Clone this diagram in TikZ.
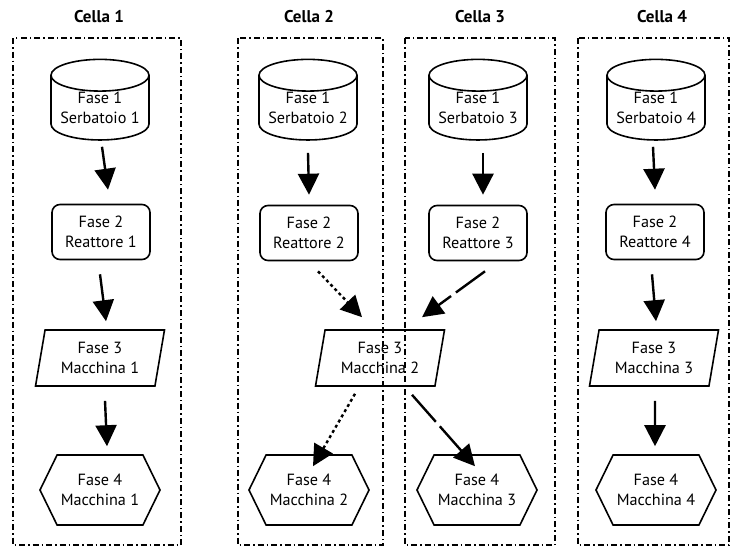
\documentclass[tikz,border=0pt]{standalone}
\usepackage{fontspec}
\setmainfont{PT Sans}
\usetikzlibrary{shapes.geometric,shapes.symbols,arrows.meta}
\begin{document}
\begin{tikzpicture}[x=1pt,y=-1pt,
  every node/.style={font=\fontsize{16.2}{20.5}\selectfont, align=center, line width=1.6pt},
  title/.style={font=\fontsize{17}{20}\selectfont\bfseries},
  cellframe/.style={line width=1.5pt, dash pattern=on 6pt off 3pt on 1.5pt off 3pt},
  tank/.style={draw, cylinder, shape border rotate=90, aspect=0.4, minimum width=98pt, minimum height=68pt, inner sep=0pt},
  reactor/.style={draw, rectangle, rounded corners=8pt, minimum width=98pt, minimum height=55pt, inner sep=0pt},
  machine/.style={draw, trapezium, trapezium left angle=78, trapezium right angle=102, trapezium stretches=true, minimum width=130pt, minimum height=56pt, inner sep=0pt},
  output/.style={draw, signal, signal to=east and west, signal pointer angle=128, minimum width=120pt, minimum height=70pt, inner sep=0pt},
  flow/.style={line width=2.4pt, -{Triangle[length=21pt,width=21pt]}},
  dotflow/.style={flow, dash pattern=on 3pt off 3pt},
  dashflow/.style={flow, dash pattern=on 36pt off 6pt}]
\useasboundingbox (0,0) rectangle (736,547);

% cell frames
\draw[cellframe] (13,38) rectangle (181,545);
\draw[cellframe] (238,38) rectangle (383,545);
\draw[cellframe] (405,38) rectangle (555,545);
\draw[cellframe] (578,38) rectangle (729,545);

% cell titles
\node[title] (t1) at (99,17) {Cella 1};
\node[title] (t2) at (309,17) {Cella 2};
\node[title] (t3) at (480,17) {Cella 3};
\node[title] (t4) at (662,17) {Cella 4};

% phase 1: tanks
\node[tank] (s1) at (100,108) {Fase 1\\Serbatoio 1};
\node[tank] (s2) at (308,108) {Fase 1\\Serbatoio 2};
\node[tank] (s3) at (478,108) {Fase 1\\Serbatoio 3};
\node[tank] (s4) at (656,108) {Fase 1\\Serbatoio 4};

% phase 2: reactors
\node[reactor] (r1) at (101,232) {Fase 2\\Reattore 1};
\node[reactor] (r2) at (309,233) {Fase 2\\Reattore 2};
\node[reactor] (r3) at (478,233) {Fase 2\\Reattore 3};
\node[reactor] (r4) at (655,232) {Fase 2\\Reattore 4};

% phase 3: machines
\node[machine] (m1) at (100,358) {Fase 3\\Macchina 1};
\node[machine] (m2) at (380,358) {Fase 3\\Macchina 2};
\node[machine] (m3) at (654,358) {Fase 3\\Macchina 3};

% phase 4: machines
\node[output] (h1) at (100,490) {Fase 4\\Macchina 1};
\node[output] (h2) at (309,490) {Fase 4\\Macchina 2};
\node[output] (h3) at (477,490) {Fase 4\\Macchina 3};
\node[output] (h4) at (656,490) {Fase 4\\Macchina 4};

% cell 1
\draw[flow] ([xshift=2pt,yshift=-6pt]s1.south) -- ([xshift=7pt,yshift=14pt]r1.north);
\draw[flow] ([xshift=-1pt,yshift=-14pt]r1.south) -- ([xshift=6pt,yshift=8pt]m1.north);
\draw[flow] ([xshift=5pt,yshift=-14pt]m1.south) -- ([xshift=7pt,yshift=8pt]h1.north);

% cells 2 and 3
\draw[flow] ([yshift=-12pt]s2.south) -- ([yshift=10pt]r2.north);
\draw[flow] ([xshift=5pt,yshift=-12pt]s3.south) -- ([xshift=5pt,yshift=10pt]r3.north);
\draw[dotflow] ([xshift=9pt,yshift=-10pt]r2.south) -- ([xshift=-18pt,yshift=12pt]m2.north);
\draw[dashflow] ([xshift=7pt,yshift=-10pt]r3.south) -- ([xshift=42pt,yshift=12pt]m2.north);
\draw[dotflow] ([xshift=-25pt,yshift=-7pt]m2.south) -- ([xshift=4pt,yshift=-12pt]h2.north);
\draw[dashflow] ([xshift=32pt,yshift=-8pt]m2.south) -- ([xshift=-2pt,yshift=-12pt]h3.north);

% cell 4
\draw[flow] ([xshift=-3pt,yshift=-6pt]s4.south) -- ([xshift=0pt,yshift=14pt]r4.north);
\draw[flow] ([xshift=-3pt,yshift=-14pt]r4.south) -- ([xshift=2pt,yshift=8pt]m3.north);
\draw[flow] ([xshift=1pt,yshift=-14pt]m3.south) -- ([xshift=-1pt,yshift=8pt]h4.north);
\end{tikzpicture}
\end{document}
